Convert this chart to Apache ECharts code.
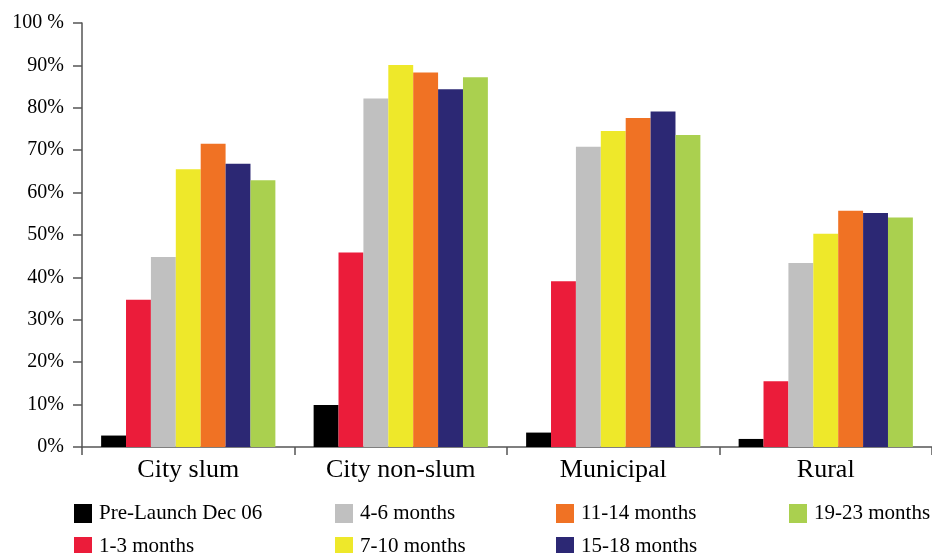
<!DOCTYPE html>
<html>
<head>
<meta charset="utf-8">
<script src="https://cdn.jsdelivr.net/npm/echarts@6/dist/echarts.min.js"></script>
<style>
html,body{margin:0;padding:0;background:#fff;}
#chart{width:932px;height:553px;}
</style>
</head>
<body>
<div id="chart"></div>
<script>
var categories = ['City slum', 'City non-slum', 'Municipal', 'Rural'];
var seriesNames = ['Pre-Launch Dec 06', '1-3 months', '4-6 months', '7-10 months', '11-14 months', '15-18 months', '19-23 months'];
var seriesColors = ['#000000', '#EB1C3A', '#C0C0C0', '#EEE82A', '#F07224', '#2C2874', '#AAD04F'];
var preLaunch = [2.7, 9.9, 3.4, 1.9];
var m1_3 = [34.7, 45.9, 39.1, 15.5];
var m4_6 = [44.8, 82.2, 70.8, 43.4];
var m7_10 = [65.5, 90.1, 74.5, 50.3];
var m11_14 = [71.5, 88.3, 77.6, 55.7];
var m15_18 = [66.8, 84.4, 79.1, 55.2];
var m19_23 = [62.9, 87.2, 73.6, 54.1];
var seriesValues = [preLaunch, m1_3, m4_6, m7_10, m11_14, m15_18, m19_23];
var yTicks = [0, 10, 20, 30, 40, 50, 60, 70, 80, 90, 100];

var serif = '"Liberation Serif", "Times New Roman", serif';
var chart = echarts.init(document.getElementById('chart'));

var series = seriesNames.map(function (name, i) {
  return {
    name: name,
    type: 'bar',
    data: seriesValues[i],
    barGap: '0%',
    barCategoryGap: '18%',
    itemStyle: { color: seriesColors[i] }
  };
});

function legendAt(left, names) {
  return {
    orient: 'vertical',
    left: left,
    top: 503,
    height: 80,
    itemWidth: 18,
    itemHeight: 19,
    itemGap: 12,
    icon: 'rect',
    padding: 0,
    textStyle: { fontFamily: serif, fontSize: 21, lineHeight: 19, color: '#000', padding: [0, 0, 0, 2] },
    data: names
  };
}

chart.setOption({
  animation: false,
  backgroundColor: '#fff',
  grid: { left: 82, right: -6, top: 23, bottom: 106, containLabel: false },
  legend: [
    legendAt(74, [seriesNames[0], seriesNames[1]]),
    legendAt(335, [seriesNames[2], seriesNames[3]]),
    legendAt(556, [seriesNames[4], seriesNames[5]]),
    legendAt(789, [seriesNames[6]])
  ],
  xAxis: {
    type: 'category',
    data: categories,
    axisLine: { lineStyle: { color: '#555', width: 1.5 } },
    axisTick: { show: true, length: 8, lineStyle: { color: '#555', width: 1.5 } },
    axisLabel: { fontFamily: serif, fontSize: 26, color: '#000', margin: 10 }
  },
  yAxis: {
    type: 'value',
    min: yTicks[0],
    max: yTicks[yTicks.length - 1],
    interval: 10,
    splitLine: { show: false },
    axisLine: { show: true, lineStyle: { color: '#555', width: 1.5 } },
    axisTick: { show: true, length: 9, lineStyle: { color: '#555', width: 1.5 } },
    axisLabel: {
      fontFamily: serif, fontSize: 20, color: '#000', margin: 18,
      formatter: function (v) { return v === 100 ? '100 %' : v + '%'; }
    }
  },
  series: series
});
</script>
</body>
</html>
